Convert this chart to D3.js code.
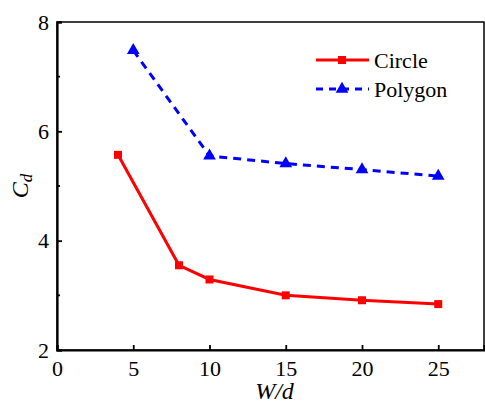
<!DOCTYPE html>
<html>
<head>
<meta charset="utf-8">
<script src="https://cdn.jsdelivr.net/npm/d3@7"></script>
<style>
  html, body { margin: 0; padding: 0; background: #fff; }
</style>
</head>
<body>
<svg id="chart" width="485" height="405"></svg>
<script>
// Drag coefficient vs. spacing ratio
const circleX = [4, 8, 10, 15, 20, 25];
const circleY = [5.57, 3.55, 3.29, 3.00, 2.91, 2.84];
const polygonX = [5, 10, 15, 20, 25];
const polygonY = [7.48, 5.55, 5.41, 5.30, 5.18];
const xTicks = [0, 5, 10, 15, 20, 25];
const yTicks = [2, 4, 6, 8];
const yMinor = [3, 5, 7];
const seriesNames = ["Circle", "Polygon"];

const FONT = "Tinos, 'Times New Roman', serif";
const svg = d3.select("#chart");
const margin = { left: 57, right: 1, top: 22, bottom: 55 };
const W = 485, H = 405;

const x = d3.scaleLinear().domain([0, 28]).range([margin.left, W - margin.right]);
const y = d3.scaleLinear().domain([2, 8]).range([H - margin.bottom, margin.top]);

// frame
svg.append("rect")
  .attr("x", x(0)).attr("y", y(8))
  .attr("width", x(28) - x(0)).attr("height", y(2) - y(8))
  .attr("fill", "none").attr("stroke", "#000").attr("stroke-width", 1.5);

// axes with inward ticks
const xAxis = d3.axisBottom(x).tickValues(xTicks).tickFormat(d3.format("d")).tickSize(-5).tickPadding(10);
const gx = svg.append("g").attr("transform", `translate(0,${y(2)})`).call(xAxis)
  .attr("font-family", null).attr("font-size", null);
gx.select(".domain").attr("stroke-width", 2.2);
gx.selectAll(".tick line").attr("stroke-width", 1.8);
gx.selectAll(".tick text").attr("fill", "#000")
  .style("font-family", FONT).style("font-size", "22px");

const yAxis = d3.axisLeft(y).tickValues(yTicks).tickFormat(d3.format("d")).tickSize(-5).tickPadding(8);
const gy = svg.append("g").attr("transform", `translate(${x(0)},0)`).call(yAxis)
  .attr("font-family", null).attr("font-size", null);
gy.select(".domain").attr("stroke-width", 2.2);
gy.selectAll(".tick line").attr("stroke-width", 1.8);
gy.selectAll(".tick text").attr("fill", "#000")
  .style("font-family", FONT).style("font-size", "22px");

svg.append("g").selectAll("line").data(yMinor).join("line")
  .attr("x1", x(0)).attr("x2", x(0) + 3)
  .attr("y1", d => y(d)).attr("y2", d => y(d))
  .attr("stroke", "#000").attr("stroke-width", 1.8);

// axis titles
svg.append("text")
  .attr("x", (x(0) + x(28)) / 2 + 4).attr("y", 399)
  .attr("text-anchor", "middle")
  .style("font-family", FONT).style("font-size", "24px").style("font-style", "italic")
  .text("W/d");

const yl = svg.append("text")
  .attr("transform", `translate(28,${y(5)}) rotate(-90)`)
  .attr("text-anchor", "middle")
  .style("font-family", FONT).style("font-size", "24px").style("font-style", "italic");
yl.append("tspan").text("C");
yl.append("tspan").style("font-size", "17px").attr("dy", 4).text("d");

// lines
const line = d3.line().x(d => x(d[0])).y(d => y(d[1]));
const circleData = circleX.map((v, i) => [v, circleY[i]]);
const polygonData = polygonX.map((v, i) => [v, polygonY[i]]);

svg.append("path").datum(circleData).attr("d", line)
  .attr("fill", "none").attr("stroke", "#ff0000").attr("stroke-width", 3);
svg.append("path").datum(polygonData).attr("d", line)
  .attr("fill", "none").attr("stroke", "#0000ff").attr("stroke-width", 3)
  .attr("stroke-dasharray", "8,6");

const sq = d3.symbol().type(d3.symbolSquare).size(64);
const tri = d3.symbol().type(d3.symbolTriangle).size(70);

svg.append("g").selectAll("path").data(circleData).join("path")
  .attr("d", sq).attr("transform", d => `translate(${x(d[0])},${y(d[1])})`)
  .attr("fill", "#ff0000");
svg.append("g").selectAll("path").data(polygonData).join("path")
  .attr("d", tri).attr("transform", d => `translate(${x(d[0])},${y(d[1])})`)
  .attr("fill", "#0000ff");

// legend
const leg = svg.append("g");
const legY = [60, 89];
leg.append("line").attr("x1", 316).attr("x2", 369).attr("y1", legY[0]).attr("y2", legY[0])
  .attr("stroke", "#ff0000").attr("stroke-width", 3);
leg.append("path").attr("d", sq).attr("transform", `translate(342,${legY[0]})`).attr("fill", "#ff0000");
leg.append("line").attr("x1", 316).attr("x2", 369).attr("y1", legY[1]).attr("y2", legY[1])
  .attr("stroke", "#0000ff").attr("stroke-width", 3).attr("stroke-dasharray", "7,6");
leg.append("path").attr("d", tri).attr("transform", `translate(342,${legY[1]})`).attr("fill", "#0000ff");
leg.selectAll("text").data(seriesNames).join("text")
  .attr("x", 374).attr("y", (d, i) => legY[i] + 8)
  .style("font-family", FONT).style("font-size", "22px").text(d => d);
</script>
</body>
</html>
